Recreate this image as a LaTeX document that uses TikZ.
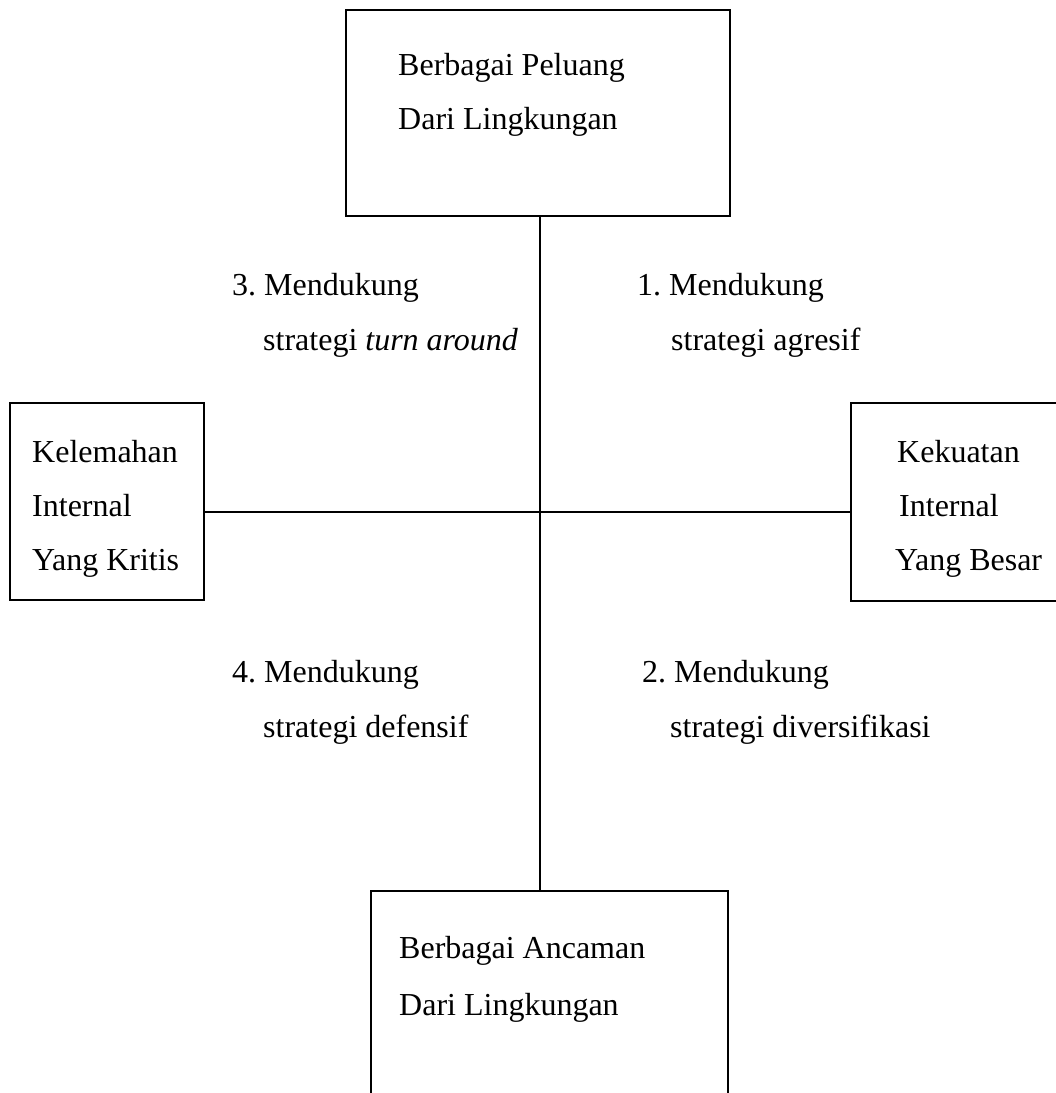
\documentclass[tikz,border=0pt]{standalone}
\usepackage{fontspec}
\setmainfont{Liberation Serif}
\frenchspacing
\begin{document}
\begin{tikzpicture}[x=1pt,y=-1pt,
  lbl/.style={anchor=base west,inner sep=0pt,font=\fontsize{32}{38}\selectfont},
  boxarea/.style={rectangle,inner sep=0pt,minimum width=#1},
  edge/.style={line width=1.8pt,line cap=rect}]
\useasboundingbox (0,0) rectangle (1056,1093);
% box areas
\node[boxarea=384pt,minimum height=206pt] (top) at (538,113) {};
\node[boxarea=194pt,minimum height=197pt] (left) at (107,501.5) {};
\node[boxarea=215pt,minimum height=198pt] (right) at (958.5,502) {};
\node[boxarea=357pt,minimum height=210pt] (bottom) at (549.5,996) {};
\coordinate (c) at (540,512);
% borders
\draw[edge] (top.north west) rectangle (top.south east);
\draw[edge] (left.north west) rectangle (left.south east);
\draw[edge] (right.north east) -- (right.north west) -- (right.south west) -- (right.south east);
\draw[edge] (bottom.south west) -- (bottom.north west) -- (bottom.north east) -- (bottom.south east);
% connectors
\draw[edge,line cap=butt] (top.south -| c) -- (bottom.north -| c);
\draw[edge,line cap=butt] (left.east |- c) -- (right.west |- c);
% texts
\node[lbl] (tp1) at (398,75) {Berbagai Peluang};
\node[lbl] (tp2) at (398,129) {Dari Lingkungan};
\node[lbl] (q3a) at (232,295) {3. Mendukung};
\node[lbl] (q3b) at (263,350) {strategi \textit{turn around}};
\node[lbl] (q1a) at (637,295) {1. Mendukung};
\node[lbl] (q1b) at (671,350) {strategi agresif};
\node[lbl] (l1) at (32,462) {Kelemahan};
\node[lbl] (l2) at (32,516) {Internal};
\node[lbl] (l3) at (32,570) {Yang Kritis};
\node[lbl] (r1) at (897,462) {Kekuatan};
\node[lbl] (r2) at (899,516) {Internal};
\node[lbl] (r3) at (895,570) {Yang Besar};
\node[lbl] (q4a) at (232,682) {4. Mendukung};
\node[lbl] (q4b) at (263,737) {strategi defensif};
\node[lbl] (q2a) at (642,682) {2. Mendukung};
\node[lbl] (q2b) at (670,737) {strategi diversifikasi};
\node[lbl] (bt1) at (399,958) {Berbagai Ancaman};
\node[lbl] (bt2) at (399,1015) {Dari Lingkungan};
\end{tikzpicture}
\end{document}
